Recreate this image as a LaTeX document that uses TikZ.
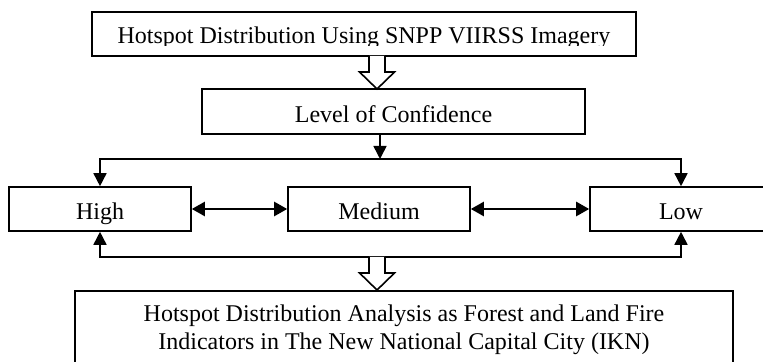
\documentclass[tikz,border=0pt]{standalone}
\usepackage{fontspec}
\setmainfont{Liberation Serif}
\usetikzlibrary{arrows.meta,positioning,calc}

\begin{document}
\begin{tikzpicture}[x=0.5pt,y=-0.5pt,
    font=\fontsize{12}{14}\selectfont,
    box/.style={draw,line width=0.8pt,rectangle,inner sep=0pt,align=center},
    level/.style={box,minimum width=91pt,minimum height=22pt,text height=11pt,text depth=0pt},
    link/.style={line width=0.8pt,-{Triangle[length=6.5pt,width=6.5pt]}},
    both/.style={line width=1.2pt,{Triangle[length=6.5pt,width=7pt]}-{Triangle[length=6.5pt,width=7pt]}},
    hollow/.pic={\draw[line width=0.8pt,fill=white] (-8,0) -- (-8,16) -- (-17.5,16) -- (0,33) -- (17.5,16) -- (8,16) -- (8,0);}]
  \useasboundingbox (0,0) rectangle (763,362);

  \node[box,minimum width=272pt,minimum height=22pt] (src) at (364,34) {};
  \begin{scope}
    \clip (92,12) rectangle (636,46);
    \node[anchor=base] (srctext) at (364,44) {Hotspot Distribution Using SNPP VIIRSS Imagery};
  \end{scope}
  \coordinate (in1) at (377,56);
  \pic at (in1) {hollow};

  \node[level,minimum width=191.5pt,minimum height=22.5pt] (conf) at (393.5,111.5) {Level of Confidence};

  \node[level] (high) at (100,209) {High};
  \node[level] (medium) at (379,209) {Medium};
  \node[level] (low) at (681,209) {Low};

  \coordinate (split) at (380,159);
  \draw[link] (conf.south -| split) -- (split);
  \draw[link] (split) -| (high.north);
  \draw[link] (split) -| (low.north);

  \draw[both] (high) -- (medium);
  \draw[both] (medium) -- (low);

  \coordinate (join) at (377,257);
  \draw[link] (join) -| (high.south);
  \draw[link] (join) -| (low.south);
  \pic at (join) {hollow};

  \node[box,minimum width=329pt,minimum height=39pt] (result) at (404,330) {Hotspot Distribution Analysis as Forest and Land Fire\\Indicators in The New National Capital City (IKN)};
\end{tikzpicture}
\end{document}
